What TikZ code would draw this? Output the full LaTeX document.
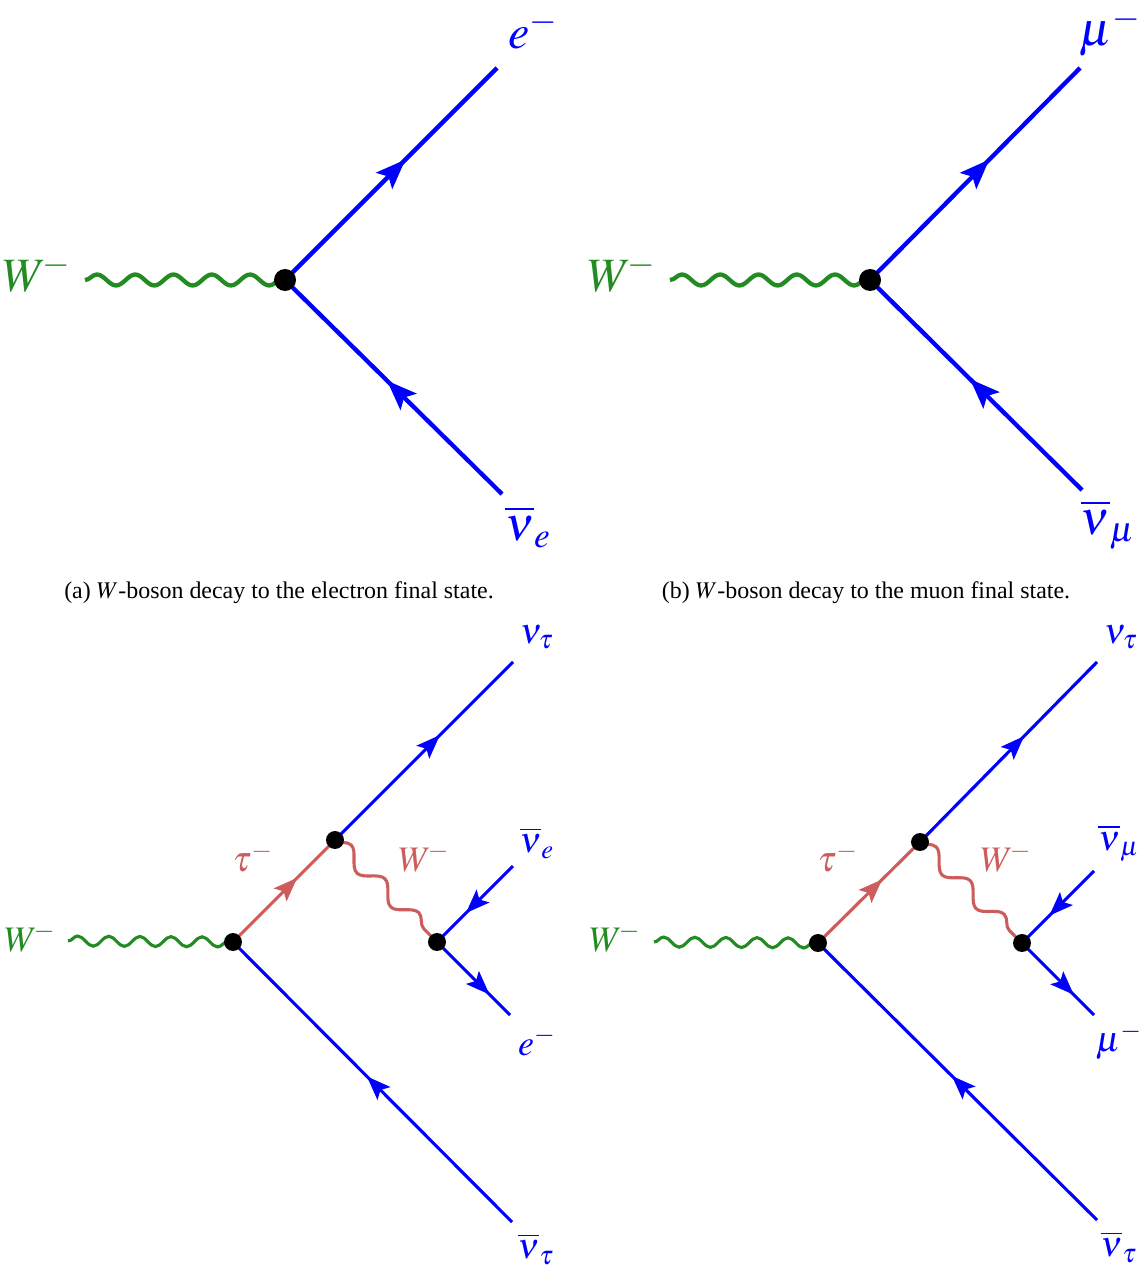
\documentclass[tikz,border=0pt]{standalone}
\usepackage{mathptmx}
\usepackage[no-math]{fontspec}
\setmainfont{Liberation Serif}
\usetikzlibrary{arrows.meta,decorations.pathmorphing,decorations.markings}
\definecolor{wgreen}{RGB}{34,139,34}
\definecolor{taured}{RGB}{205,92,92}

\begin{document}
\begin{tikzpicture}[
  x=0.0147cm, y=-0.0147cm,
  fermion/.style={blue, line width=1.8pt, postaction={decorate},
    decoration={markings, mark=at position #1 with {\arrow{Stealth[length=12.5pt,width=9.5pt,inset=2.5pt]}}}},
  fermion/.default=0.57,
  sfermion/.style={blue, line width=1.3pt, postaction={decorate},
    decoration={markings, mark=at position #1 with {\arrow{Stealth[length=10pt,width=7.5pt,inset=2pt]}}}},
  sfermion/.default=0.57,
  boson/.style={wgreen, line width=1.8pt, decorate,
    decoration={snake, amplitude=2.3pt, segment length=16pt}},
  sboson/.style={wgreen, line width=1.3pt, decorate,
    decoration={snake, amplitude=2.1pt, segment length=13pt}},
  tauline/.style={taured, line width=1.3pt, postaction={decorate},
    decoration={markings, mark=at position 0.63 with {\arrow{Stealth[length=10pt,width=7.5pt,inset=2pt]}}}},
  wprop/.style={taured, line width=1.3pt, decorate,
    decoration={snake, amplitude=3.3pt, segment length=20pt}},
  dot/.style={circle, fill=black, inner sep=0pt, minimum size=9.2pt},
  sdot/.style={circle, fill=black, inner sep=0pt, minimum size=7.5pt},
  biglbl/.style={inner sep=0pt, font=\fontsize{20}{24}\selectfont},
  lbl/.style={inner sep=0pt, font=\fontsize{15}{18}\selectfont},
  caption/.style={inner sep=0pt, font=\fontsize{10}{12}\selectfont}
]
\useasboundingbox (0,0) rectangle (1145,1270);

% (a) electron
\coordinate (aw) at (85,280);
\coordinate (av) at (285,280);
\coordinate (ae) at (497,68);
\coordinate (an) at (502,494);
\draw[boson] (aw) -- (av);
\draw[fermion] (av) -- (ae);
\draw[fermion=0.53] (an) -- (av);
\node[dot] (avd) at (av) {};
\node[biglbl, wgreen] (awl) at (37,273) {$W^{\!-}$};
\node[biglbl, blue] (ael) at (533,30) {$e^-$};
\node[biglbl, blue] (anl) at (528,527) {$\overline{\nu}_e$};
\node[caption] (acap) at (279,593) {(a) $W$-boson decay to the electron final state.};

% (b) muon
\coordinate (bw) at (670,280);
\coordinate (bv) at (870,280);
\coordinate (bm) at (1080,68);
\coordinate (bn) at (1082,490);
\draw[boson] (bw) -- (bv);
\draw[fermion] (bv) -- (bm);
\draw[fermion=0.53] (bn) -- (bv);
\node[dot] (bvd) at (bv) {};
\node[biglbl, wgreen] (bwl) at (622,273) {$W^{\!-}$};
\node[biglbl, blue] (bml) at (1110,32) {$\mu^-$};
\node[biglbl, blue] (bnl) at (1108,525) {$\overline{\nu}_\mu$};
\node[caption] (bcap) at (866,593) {(b) $W$-boson decay to the muon final state.};

% (c) tau -> electron
\coordinate (cw) at (68,941);
\coordinate (cv) at (233,942);
\coordinate (ct) at (335,840);
\coordinate (cnt) at (513,662);
\coordinate (cat) at (512,1222);
\coordinate (cx) at (437,942);
\coordinate (cne) at (513,866);
\coordinate (ce) at (510,1015);
\draw[sboson] (cw) -- (cv);
\draw[tauline] (cv) -- (ct);
\draw[sfermion=0.59] (ct) -- (cnt);
\draw[sfermion=0.52] (cat) -- (cv);
\draw[wprop] (ct) -- (cx);
\draw[sfermion=0.62] (cne) -- (cx);
\draw[sfermion=0.72] (cx) -- (ce);
\node[sdot] (cvd) at (cv) {};
\node[sdot] (ctd) at (ct) {};
\node[sdot] (cxd) at (cx) {};
\node[lbl, wgreen] (cwl) at (30,938) {$W^{\!-}$};
\node[lbl, taured] (ctl) at (253,858) {$\tau^-$};
\node[lbl, taured] (cxl) at (424,858) {$W^{\!-}$};
\node[lbl, blue] (cntl) at (537,637) {$\nu_\tau$};
\node[lbl, blue] (cnel) at (537,843) {$\overline{\nu}_e$};
\node[lbl, blue] (cel) at (537,1041) {$e^-$};
\node[lbl, blue] (catl) at (536,1249) {$\overline{\nu}_\tau$};

% (d) tau -> muon
\coordinate (dw) at (654,942);
\coordinate (dv) at (818,943);
\coordinate (dt) at (920,842);
\coordinate (dnt) at (1097,662);
\coordinate (dat) at (1097,1220);
\coordinate (dx) at (1022,943);
\coordinate (dnm) at (1094,871);
\coordinate (dm) at (1094,1015);
\draw[sboson] (dw) -- (dv);
\draw[tauline] (dv) -- (dt);
\draw[sfermion=0.59] (dt) -- (dnt);
\draw[sfermion=0.52] (dat) -- (dv);
\draw[wprop] (dt) -- (dx);
\draw[sfermion=0.62] (dnm) -- (dx);
\draw[sfermion=0.72] (dx) -- (dm);
\node[sdot] (dvd) at (dv) {};
\node[sdot] (dtd) at (dt) {};
\node[sdot] (dxd) at (dx) {};
\node[lbl, wgreen] (dwl) at (615,938) {$W^{\!-}$};
\node[lbl, taured] (dtl) at (838,858) {$\tau^-$};
\node[lbl, taured] (dxl) at (1006,858) {$W^{\!-}$};
\node[lbl, blue] (dntl) at (1121,637) {$\nu_\tau$};
\node[lbl, blue] (dnml) at (1119,843) {$\overline{\nu}_\mu$};
\node[lbl, blue] (dml) at (1119,1041) {$\mu^-$};
\node[lbl, blue] (datl) at (1119,1247) {$\overline{\nu}_\tau$};
\end{tikzpicture}
\end{document}
